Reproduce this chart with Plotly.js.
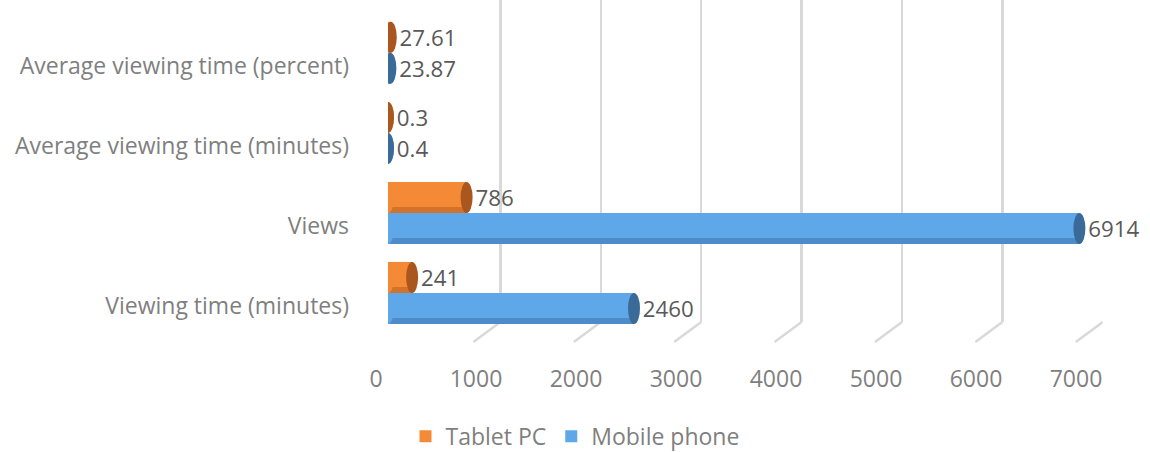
<!DOCTYPE html>
<html>
<head>
<meta charset="utf-8">
<script src="https://cdn.plot.ly/plotly-3.0.1.min.js"></script>
<style>html,body{margin:0;padding:0;background:#fff;}#chart{width:1150px;height:452px;}</style>
</head>
<body>
<div id="chart"></div>
<script>
const categories = ["Viewing time (minutes)", "Views", "Average viewing time (minutes)", "Average viewing time (percent)"];
const mobilePhone = [2460, 6914, 0.4, 23.87];
const tabletPC = [241, 786, 0.3, 27.61];
const mobileLabels = ["2460", "6914", "0.4", "23.87"];
const tabletLabels = ["241", "786", "0.3", "27.61"];
const xTicks = [0, 1000, 2000, 3000, 4000, 5000, 6000, 7000];

const FONT = "Open Sans, Noto Sans, sans-serif";
const FS = 23;
const labelFont = {family: FONT, size: FS, color: "#595959"};

const BLUE = {main: "#5ea7e8", dark: "#3a6b98", shade: "#4d8cc8", legend: "#5b9bd5"};
const ORANGE = {main: "#f48a36", dark: "#a9561f", shade: "#d2732d", legend: "#ed7d31"};

const traces = [
  // invisible trace for the back-wall grid subplot
  {
    type: "scatter", mode: "markers", x: [0], y: [0], xaxis: "x", yaxis: "y",
    marker: {opacity: 0}, showlegend: false, hoverinfo: "skip"
  },
  {
    type: "bar", orientation: "h", name: "Mobile phone", xaxis: "x2", yaxis: "y2",
    y: categories, x: mobilePhone, text: mobileLabels, texttemplate: "\u00a0%{text}",
    textposition: "outside", cliponaxis: false, textfont: labelFont,
    marker: {color: BLUE.main, line: {width: 0}},
    legendrank: 2, hoverinfo: "x+name"
  },
  {
    type: "bar", orientation: "h", name: "Tablet PC", xaxis: "x2", yaxis: "y2",
    y: categories, x: tabletPC, text: tabletLabels, texttemplate: "\u00a0%{text}",
    textposition: "outside", cliponaxis: false, textfont: labelFont,
    marker: {color: ORANGE.main, line: {width: 0}},
    legendrank: 1, hoverinfo: "x+name"
  }
];

const floorY = 0.033;
const shapes = [];
// slanted floor lines of the 3D grid
xTicks.forEach(v => shapes.push({
  type: "line", xref: "x", yref: "paper", layer: "below",
  xsizemode: "pixel", xanchor: v, x0: 0, x1: -27,
  ysizemode: "pixel", yanchor: floorY, y0: 0, y1: -20,
  line: {color: "#d9d9d9", width: 2.5}
}));

// cylinder shading and caps, built from the data arrays
const BAR_PX = 31;
function cylinder(values, col, lower) {
  values.forEach((v, i) => {
    const y0 = lower ? -BAR_PX : 0, y1 = lower ? 0 : BAR_PX;
    shapes.push({
      type: "rect", xref: "x2", yref: "y2", layer: "above",
      x0: 0, x1: v, ysizemode: "pixel", yanchor: i, y0: y0, y1: y0 + 6,
      fillcolor: col.shade, line: {width: 0}
    });
    shapes.push({
      type: "circle", xref: "x2", yref: "y2", layer: "above",
      xsizemode: "pixel", xanchor: 0, x0: -6, x1: 6,
      ysizemode: "pixel", yanchor: i, y0: y0, y1: y1,
      fillcolor: col.main, line: {width: 0}
    });
    shapes.push({
      type: "circle", xref: "x2", yref: "y2", layer: "above",
      xsizemode: "pixel", xanchor: v, x0: -6, x1: 6,
      ysizemode: "pixel", yanchor: i, y0: y0, y1: y1,
      fillcolor: col.dark, line: {width: 0}
    });
  });
}
cylinder(mobilePhone, BLUE, true);
cylinder(tabletPC, ORANGE, false);

const layout = {
  width: 1150, height: 452,
  margin: {l: 388, r: 40, t: 0, b: 119},
  paper_bgcolor: "#ffffff", plot_bgcolor: "rgba(0,0,0,0)",
  barmode: "group", bargap: 0.225, bargroupgap: 0,
  showlegend: true,
  legend: {
    orientation: "h", xref: "container", x: 0.5, xanchor: "center",
    yref: "container", y: 0.035, yanchor: "middle",
    font: {family: FONT, size: FS, color: "#7f7f7f"},
    tracegroupgap: 0
  },
  xaxis: {
    domain: [0.0166, 0.990], range: [0, 7000], anchor: "y",
    tickvals: xTicks, showticklabels: false, showgrid: true,
    gridcolor: "#d9d9d9", gridwidth: 2.5, zeroline: false, showline: false, ticks: ""
  },
  yaxis: {
    domain: [floorY, 1], range: [0, 1], anchor: "x",
    showgrid: false, zeroline: false, showline: false, showticklabels: false
  },
  xaxis2: {
    domain: [0, 1], range: [0, 7220], anchor: "y2",
    tickvals: xTicks, ticktext: xTicks.map(String),
    showgrid: false, zeroline: false, showline: false, ticks: "",
    ticklabelshift: -12, ticklabelstandoff: 30,
    tickfont: {family: FONT, size: FS, color: "#7f7f7f"}, fixedrange: true
  },
  yaxis2: {
    domain: [0, 1], anchor: "x2",
    type: "category", range: [-0.5, 3.66],
    showgrid: false, zeroline: false, showline: false, ticks: "",
    ticklabelstandoff: 38, ticklabelshift: 13,
    tickfont: {family: FONT, size: FS, color: "#7f7f7f"}, fixedrange: true
  },
  shapes: shapes
};

Plotly.newPlot("chart", traces, layout, {displayModeBar: false, staticPlot: true});
</script>
</body>
</html>
